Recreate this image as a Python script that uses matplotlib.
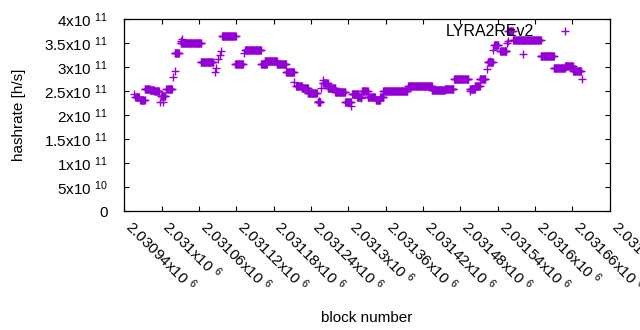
import matplotlib
matplotlib.use("Agg")
import numpy as np
import matplotlib.pyplot as plt

plt.rcParams["font.family"] = ["Liberation Sans", "DejaVu Sans"]
plt.rcParams["mathtext.fontset"] = "custom"
plt.rcParams["mathtext.rm"] = "Liberation Sans"
plt.rcParams["mathtext.default"] = "regular"

COLOR = "#9400d3"

# runs of constant hashrate: first block, last block, hashrate (x1e11 h/s)
run_start = [2030956, 2030958, 2030966, 2030973, 2030981, 2030988, 2030997, 2031003,
             2030999, 2031008, 2031019, 2031021, 2031021, 2031031, 2031033, 2031031,
             2031063, 2031086, 2031088, 2031091, 2031094, 2031096, 2031097, 2031118,
             2031133, 2031134, 2031160, 2031166, 2031185, 2031200, 2031213, 2031216,
             2031225, 2031235, 2031251, 2031253, 2031256, 2031259, 2031259, 2031267,
             2031279, 2031295, 2031305, 2031306, 2031314, 2031320, 2031322, 2031331,
             2031344, 2031351, 2031356, 2031396, 2031434, 2031455, 2031470, 2031495,
             2031495, 2031503, 2031511, 2031523, 2031524, 2031528, 2031533, 2031534,
             2031544, 2031555, 2031556, 2031557, 2031565, 2031581, 2031609, 2031630,
             2031648, 2031661, 2031675]
run_end = [2030956, 2030964, 2030973, 2030981, 2030988, 2030996, 2030997, 2031003,
           2031006, 2031017, 2031019, 2031021, 2031028, 2031031, 2031033, 2031064,
           2031083, 2031086, 2031088, 2031091, 2031094, 2031096, 2031119, 2031131,
           2031133, 2031160, 2031169, 2031185, 2031200, 2031213, 2031213, 2031225,
           2031235, 2031249, 2031255, 2031253, 2031256, 2031267, 2031259, 2031279,
           2031295, 2031304, 2031305, 2031316, 2031321, 2031320, 2031331, 2031343,
           2031351, 2031356, 2031395, 2031434, 2031455, 2031469, 2031493, 2031495,
           2031503, 2031511, 2031520, 2031523, 2031532, 2031528, 2031533, 2031541,
           2031554, 2031555, 2031556, 2031564, 2031609, 2031581, 2031630, 2031648,
           2031661, 2031674, 2031675]
run_rate = [2.44, 2.38, 2.32, 2.55, 2.52, 2.49, 2.28, 2.28,
            2.40, 2.54, 2.80, 2.92, 3.285, 3.55, 3.58, 3.50,
            3.10, 2.89, 2.97, 3.16, 3.26, 3.33, 3.64, 3.06,
            3.29, 3.35, 3.06, 3.125, 3.06, 2.89, 2.68, 2.60,
            2.57, 2.45, 2.28, 2.30, 2.56, 2.67, 2.73, 2.57,
            2.47, 2.28, 2.19, 2.44, 2.375, 2.35, 2.51, 2.375,
            2.32, 2.38, 2.49, 2.60, 2.52, 2.55, 2.76, 2.50,
            2.54, 2.61, 2.74, 2.96, 3.10, 3.13, 3.35, 3.45,
            3.33, 3.49, 3.55, 3.74, 3.56, 3.265, 3.23, 2.98,
            3.03, 2.91, 2.76]

xticks = [2030940, 2031000, 2031060, 2031120, 2031180, 2031240, 2031300,
          2031360, 2031420, 2031480, 2031540, 2031600, 2031660, 2031720]
xtick_labels = ["2.03094x10 $^{6}$", "2.031x10 $^{6}$", "2.03106x10 $^{6}$",
                "2.03112x10 $^{6}$", "2.03118x10 $^{6}$", "2.03124x10 $^{6}$",
                "2.0313x10 $^{6}$", "2.03136x10 $^{6}$", "2.03142x10 $^{6}$",
                "2.03148x10 $^{6}$", "2.03154x10 $^{6}$", "2.0316x10 $^{6}$",
                "2.03166x10 $^{6}$", "2.03172x10 $^{6}$"]
yticks = [0, 0.5e11, 1e11, 1.5e11, 2e11, 2.5e11, 3e11, 3.5e11, 4e11]
ytick_labels = ["0", "5x10 $^{10}$", "1x10 $^{11}$", "1.5x10 $^{11}$", "2x10 $^{11}$",
                "2.5x10 $^{11}$", "3x10 $^{11}$", "3.5x10 $^{11}$", "4x10 $^{11}$"]

# expand runs into one point per block
blocks = np.concatenate([np.arange(s, e + 1) for s, e in zip(run_start, run_end)])
rates = np.concatenate([np.full(e - s + 1, r * 1e11)
                        for s, e, r in zip(run_start, run_end, run_rate)])

fig = plt.figure(figsize=(6.4, 3.3), dpi=100)
ax = fig.add_axes([0.194, 0.3606, 0.7587, 0.5818])

ax.plot(blocks, rates, "+", color=COLOR, ms=6.2, mew=1.0, label="LYRA2REv2")

ax.set_xlim(xticks[0], xticks[-1])
ax.set_ylim(0, 4e11)
ax.set_xticks(xticks)
ax.set_xticklabels(xtick_labels, rotation=-45, ha="left", va="baseline",
                   rotation_mode="anchor", fontsize=11)
ax.set_yticks(yticks)
ax.set_yticklabels(ytick_labels, fontsize=11)
ax.tick_params(direction="in", length=3.5, width=0.8, top=True, right=True)
ax.tick_params(axis="x", pad=12)
ax.tick_params(axis="y", pad=12)
for sp in ax.spines.values():
    sp.set_linewidth(0.9)

ax.set_ylabel("hashrate [h/s]", fontsize=11, labelpad=13)
ax.set_xlabel("block number", fontsize=11, labelpad=12)

ax.legend(loc="upper right", bbox_to_anchor=(0.9747, 0.99), frameon=False,
          markerfirst=False, fontsize=11.5, handlelength=3.6, handletextpad=0.15,
          borderaxespad=0, borderpad=0.2)

fig.savefig("out.png", dpi=100)
